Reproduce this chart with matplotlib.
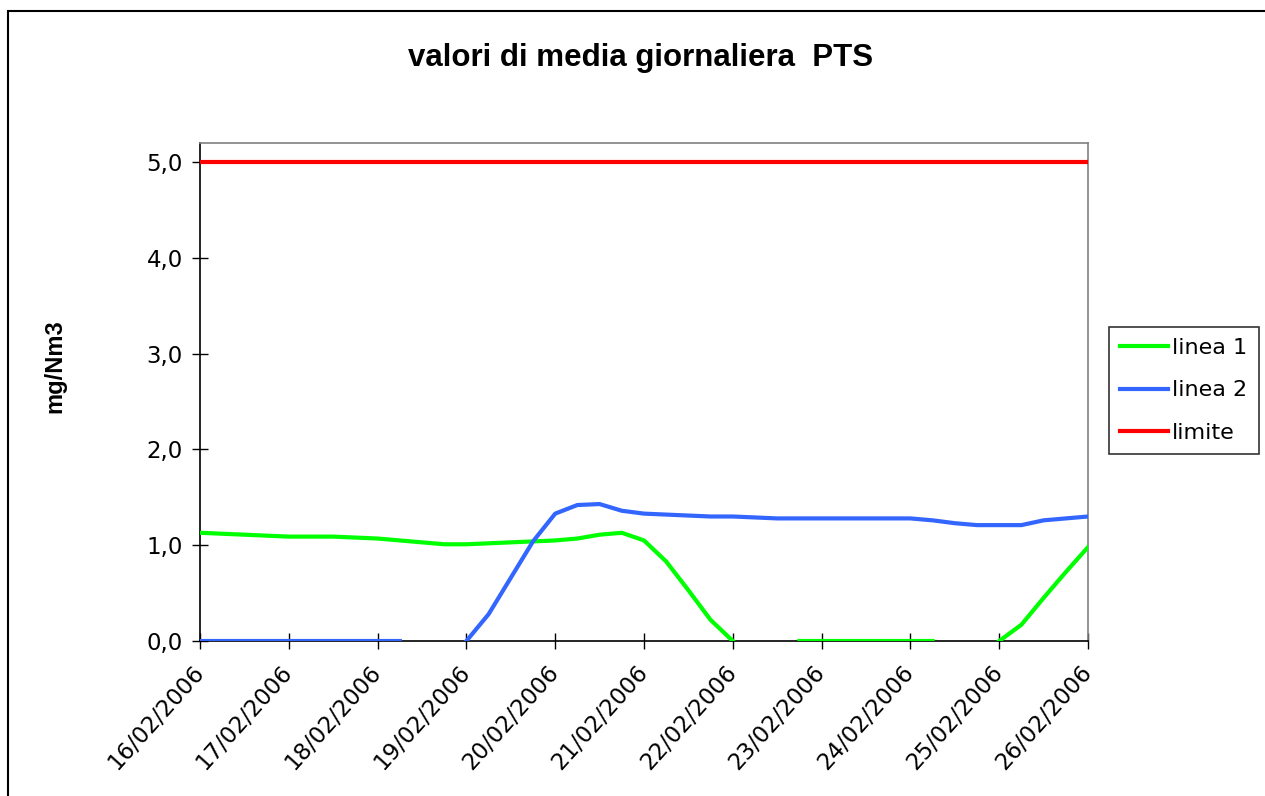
import numpy as np
import pandas as pd
import matplotlib
matplotlib.use('Agg')
import matplotlib.pyplot as plt
from matplotlib.patches import Rectangle
from matplotlib.ticker import FuncFormatter

nan = np.nan

# campioni ogni 6 ore dal 16/02/2006 al 26/02/2006
times = pd.date_range('2006-02-16', '2006-02-26', freq='6h')

linea1 = [1.13, 1.12, 1.11, 1.10, 1.09, 1.09, 1.09, 1.08, 1.07, 1.05,
          1.03, 1.01, 1.01, 1.02, 1.03, 1.04, 1.05, 1.07, 1.11, 1.13,
          1.05, 0.83, 0.53, 0.22, 0.00, nan, nan, 0.00, 0.00, 0.00,
          0.00, 0.00, 0.00, 0.00, nan, nan, 0.00, 0.17, 0.45, 0.72,
          0.98]
linea2 = [0.00, 0.00, 0.00, 0.00, 0.00, 0.00, 0.00, 0.00, 0.00, 0.00,
          nan, nan, 0.00, 0.28, 0.66, 1.04, 1.33, 1.42, 1.43, 1.36,
          1.33, 1.32, 1.31, 1.30, 1.30, 1.29, 1.28, 1.28, 1.28, 1.28,
          1.28, 1.28, 1.28, 1.26, 1.23, 1.21, 1.21, 1.21, 1.26, 1.28,
          1.30]
limite = [5.0] * len(times)

day_ticks = pd.date_range('2006-02-16', '2006-02-26', freq='D')
day_labels = [d.strftime('%d/%m/%Y') for d in day_ticks]

plt.rcParams['font.family'] = ['DejaVu Sans']

fig = plt.figure(figsize=(12.65, 7.96), dpi=100)
ax = fig.add_axes([200 / 1265, 1 - 641 / 796, 888 / 1265, 498 / 796])

ax.plot(times, linea1, color='#00FF00', lw=3, label='linea 1', zorder=3)
ax.plot(times, linea2, color='#3366FF', lw=3, label='linea 2', zorder=3)
ax.plot(times, limite, color='#FF0000', lw=3, label='limite', zorder=3)

ax.set_xlim(times[0], times[-1])
ax.set_ylim(0, 5.2)
ax.set_yticks([0, 1, 2, 3, 4, 5])
ax.yaxis.set_major_formatter(FuncFormatter(lambda v, p: ('%.1f' % v).replace('.', ',')))
ax.set_xticks(day_ticks)
ax.set_xticklabels(day_labels, rotation=48, ha='right', va='center', rotation_mode='anchor')

ax.tick_params(axis='both', direction='inout', length=11, width=1, labelsize=16.5, color='black')
ax.tick_params(axis='y', pad=7)
ax.tick_params(axis='x', pad=14)

for side in ['top', 'right']:
    ax.spines[side].set_color('#808080')
    ax.spines[side].set_linewidth(1.2)
for side in ['left', 'bottom']:
    ax.spines[side].set_color('black')
    ax.spines[side].set_linewidth(1.2)

fig.text(55 / 1265, 1 - 366 / 796, 'mg/Nm3', rotation=90, ha='center', va='center',
         fontsize=17, fontweight='bold', family='Liberation Sans')

fig.text(641 / 1265, 1 - 58 / 796, 'valori di media giornaliera  PTS',
         ha='center', va='center', fontsize=22.5, fontweight='bold', family='Liberation Sans')

leg = ax.legend(loc='upper left', bbox_to_anchor=(1109 / 1265, 1 - 327 / 796),
                bbox_transform=fig.transFigure, fontsize=16, frameon=True, fancybox=False,
                handlelength=2.15, handletextpad=0.2, borderpad=0.5, labelspacing=1.0,
                borderaxespad=0)
leg.get_frame().set_edgecolor('black')
leg.get_frame().set_linewidth(1.2)

# cornice del grafico
fig.add_artist(Rectangle((8 / 1265, -0.05), 1.2, 1 - 11 / 796 + 0.05, transform=fig.transFigure,
                         fill=False, edgecolor='black', lw=1.5))

fig.savefig('out.png', dpi=100)
